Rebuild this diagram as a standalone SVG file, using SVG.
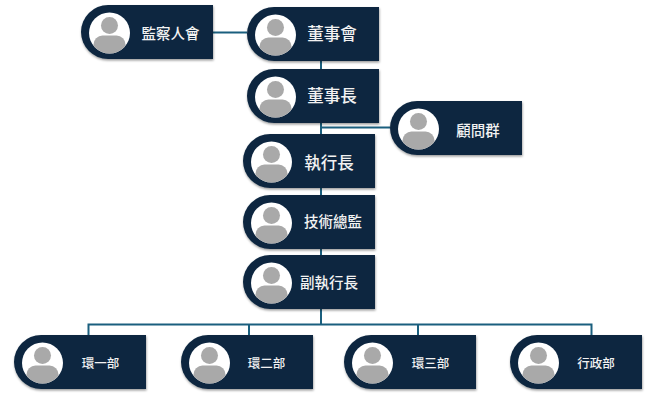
<svg xmlns="http://www.w3.org/2000/svg" xmlns:xlink="http://www.w3.org/1999/xlink" width="661" height="413" viewBox="0 0 661 413">
<defs>
<filter id="sh" x="-10%" y="-10%" width="120%" height="125%"><feDropShadow dx="0.5" dy="1.5" stdDeviation="1.2" flood-color="#000" flood-opacity="0.4"/></filter>
<clipPath id="cp"><circle cx="0" cy="0" r="20.500"/></clipPath>
<g id="card">
<path class="b" d="M27 0H132V54H27A27 27 0 0 1 27 0Z" filter="url(#sh)"/>
<g transform="translate(28.500 28)">
<circle r="20.500" fill="#fff"/>
<g clip-path="url(#cp)"><circle cx="0" cy="-7.500" r="8.500" fill="#a9a9a9"/><rect x="-16" y="2.500" width="32" height="20" rx="9" fill="#a9a9a9"/></g>
</g>
</g>
</defs>
<style>
.b{fill:#0e2841}
.l{fill:none;stroke:#1a5f7e;stroke-width:2}
text{font-family:"Noto Sans CJK TC","Noto Sans CJK SC",sans-serif;fill:#f2f2f2;text-anchor:middle;font-weight:500}
.m{font-size:16.500px}
.s{font-size:14.500px}
.t{font-size:12.500px}
</style>
<rect width="661" height="413" fill="#fff"/>
<g id="connectors">
<path class="l" d="M213 32.500H247"/>
<path class="l" d="M321 60V69"/>
<path class="l" d="M321 122V134"/>
<path class="l" d="M321 127.500H390"/>
<path class="l" d="M321 188V195"/>
<path class="l" d="M321 248V255"/>
<path class="l" d="M321 308V324.500"/>
<path class="l" d="M88.500 335V324.500H591.500V335"/>
<path class="l" d="M249 324.500V335"/>
<path class="l" d="M418 324.500V335"/>
</g>
<g id="n1"><use href="#card" x="81" y="5"/><text class="s" x="170.500" y="39">監察人會</text></g>
<g id="n2"><use href="#card" x="247" y="7"/><text class="m" x="332" y="39.500">董事會</text></g>
<g id="n3"><use href="#card" x="247" y="69"/><text class="m" x="332" y="102">董事長</text></g>
<g id="n4"><use href="#card" x="390" y="101"/><text class="s" x="478" y="135.500">顧問群</text></g>
<g id="n5"><use href="#card" x="243" y="134"/><text class="m" x="329" y="169">執行長</text></g>
<g id="n6"><use href="#card" x="243" y="195"/><text class="s" x="333" y="227">技術總監</text></g>
<g id="n7"><use href="#card" x="243" y="255"/><text class="s" x="329" y="288">副執行長</text></g>
<g id="n8"><use href="#card" x="14" y="335"/><text class="t" x="100.500" y="368">環一部</text></g>
<g id="n9"><use href="#card" x="181" y="335"/><text class="t" x="266.500" y="368">環二部</text></g>
<g id="n10"><use href="#card" x="344" y="335"/><text class="t" x="430.500" y="368">環三部</text></g>
<g id="n11"><use href="#card" x="510" y="335"/><text class="t" x="596" y="368">行政部</text></g>
</svg>
